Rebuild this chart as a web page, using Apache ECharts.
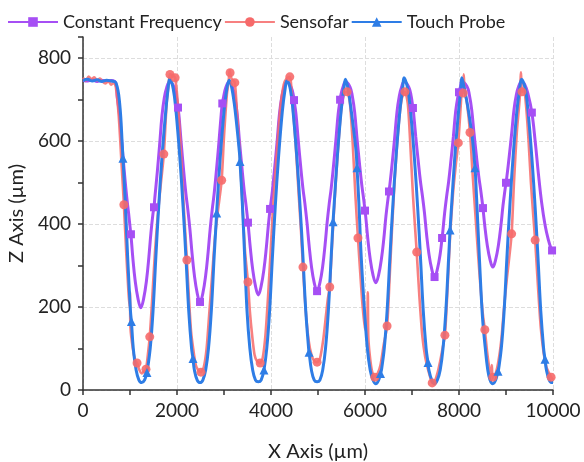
<!DOCTYPE html>
<html>
<head>
<meta charset="utf-8">
<script src="https://cdn.jsdelivr.net/npm/echarts@6/dist/echarts.min.js"></script>
<style>
  html, body { margin: 0; padding: 0; background: #ffffff; }
  #chart { width: 584px; height: 462px; }
</style>
</head>
<body>
<div id="chart"></div>
<script>
// Surface profile along X: three measurement methods, [x (µm), z (µm)]
const seriesNames = ['Constant Frequency', 'Sensofar', 'Touch Probe'];

const constantFrequency = [
  [0,746],[100,744],[200,747],[300,743],[400,746],[500,744],[600,745],[700,738],
  [730,704],[780,660],[830,590],[880,524],[930,465],[970,426],[1015,378],[1060,318],[1110,263],[1170,220],[1230,198],
  [1290,220],[1350,263],[1400,318],[1445,378],[1490,426],[1530,465],[1580,524],[1630,590],[1680,660],[1730,704],[1780,728],[1845,742],
  [1940,729],[1990,705],[2040,663],[2090,594],[2140,530],[2190,472],[2230,435],[2275,387],[2320,329],[2370,276],[2430,233],[2490,212],
  [2550,233],[2610,276],[2660,329],[2705,387],[2750,435],[2790,472],[2840,530],[2890,594],[2940,663],[2990,705],[3040,729],[3110,742],
  [3180,729],[3230,706],[3280,665],[3330,598],[3380,537],[3430,480],[3470,444],[3515,398],[3560,342],[3610,291],[3670,250],[3730,229],
  [3790,250],[3850,291],[3900,342],[3945,398],[3990,444],[4030,480],[4080,537],[4130,598],[4180,665],[4230,706],[4280,729],[4340,742],
  [4430,729],[4480,707],[4530,666],[4580,601],[4630,540],[4680,485],[4720,450],[4765,404],[4810,349],[4860,298],[4920,258],[4980,238],
  [5040,258],[5100,298],[5150,349],[5195,404],[5240,450],[5280,485],[5330,540],[5380,601],[5430,666],[5480,707],[5530,729],[5585,742],
  [5680,730],[5730,708],[5780,669],[5830,606],[5880,548],[5930,495],[5970,461],[6015,418],[6060,364],[6110,316],[6170,277],[6230,258],
  [6290,277],[6350,316],[6400,364],[6445,418],[6490,461],[6530,495],[6580,548],[6630,606],[6680,669],[6730,708],[6780,730],[6830,742],
  [6930,730],[6980,709],[7030,672],[7080,610],[7130,554],[7180,502],[7220,469],[7265,427],[7310,375],[7360,328],[7420,291],[7480,272],
  [7540,291],[7600,328],[7650,375],[7695,427],[7740,469],[7780,502],[7830,554],[7880,610],[7930,672],[7980,709],[8030,730],[8060,742],
  [8170,731],[8220,711],[8270,675],[8320,617],[8370,564],[8420,515],[8460,483],[8505,443],[8550,394],[8600,350],[8660,314],[8720,296],
  [8780,314],[8840,350],[8890,394],[8935,443],[8980,483],[9020,515],[9070,564],[9120,617],[9170,675],[9220,711],[9270,731],[9330,742],
  [9400,735],[9470,712],[9620,600],[9690,520],[9760,450],[9830,398],[9900,362],[9960,340],[10000,332]
];
const constantFrequencyMarks = [
  [1020,375],[1510,440],[2021,680],[2490,212],[2964,690],[3510,403],[3980,436],[4490,698],[4980,238],
  [5470,699],[6000,432],[6510,478],[7020,679],[7480,272],[7640,366],[8000,717],[8510,438],[9000,499],[9550,668],[9980,336]
];

const sensofar = [
  [0,752],[60,745],[120,755],[180,748],[240,753],[300,745],[360,750],[420,742],[480,738],[540,744],[600,735],[660,740],[700,728],
  [760,660],[820,545],[920,330],[960,250],[990,200],[1000,235],[1010,150],[1060,100],[1110,72],[1200,48],[1250,40],
  [1300,45],[1380,85],[1470,215],[1530,330],[1590,420],[1650,490],[1780,690],[1830,745],[1900,758],
  [2010,700],[2070,600],[2130,470],[2170,390],[2260,210],[2300,140],[2350,95],[2400,60],[2450,48],
  [2570,55],[2630,100],[2690,190],[2750,280],[2810,370],[2880,440],[3000,610],[3060,710],[3100,745],[3120,770],[3160,750],
  [3280,660],[3340,560],[3400,430],[3450,330],[3550,190],[3600,130],[3650,85],[3700,70],
  [3820,75],[3880,130],[3940,230],[4000,350],[4060,470],[4130,580],[4200,680],[4270,735],[4330,750],
  [4450,700],[4520,600],[4590,470],[4640,380],[4740,190],[4800,120],[4860,85],[4920,70],
  [5040,75],[5110,120],[5170,180],[5210,220],[5290,330],[5350,450],[5420,570],[5490,670],[5560,715],
  [5680,690],[5740,590],[5800,460],[5900,280],[5950,200],[6000,150],[6040,140],[6060,235],[6070,130],[6100,85],[6150,45],
  [6270,40],[6330,60],[6400,110],[6520,260],[6580,400],[6640,520],[6710,630],[6780,700],
  [6910,690],[6960,600],[7020,470],[7060,400],[7160,220],[7220,130],[7280,80],[7340,50],[7390,30],
  [7480,20],[7540,40],[7600,70],[7650,100],[7750,230],[7810,370],[7870,470],[7930,540],[8040,690],[8070,740],[8100,760],[8120,720],[8170,690],
  [8290,520],[8350,420],[8410,320],[8470,230],[8510,180],[8600,90],[8650,50],[8690,35],[8700,60],[8710,28],
  [8780,40],[8840,70],[8900,120],[8960,200],[9020,270],[9070,320],[9170,500],[9230,620],[9290,700],[9320,765],[9380,725],
  [9430,680],[9480,600],[9530,500],[9580,420],[9680,250],[9740,150],[9800,90],[9860,55],[9920,40],[10000,25]
];
const sensofarMarks = [
  [870,446],[1150,65],[1340,50],[1420,128],[1720,568],[1850,760],[1960,752],[2210,313],[2510,43],
  [2950,505],[3130,764],[3230,740],[3510,260],[3770,65],[4400,754],[4680,296],[4980,67],[5250,248],
  [5620,718],[5850,366],[6210,31],[6470,154],[6850,718],[7100,332],[7430,17],[7700,132],[7985,595],
  [8090,715],[8234,620],[8550,145],[8720,31],[9120,376],[9340,718],[9620,361],[9960,31]
];

const touchProbe = [
  [0,745],[100,748],[200,744],[300,747],[400,743],[500,746],[600,744],[700,740],
  [780,690],[840,580],[900,450],[950,320],[1010,190],[1070,100],[1130,48],[1190,24],[1250,18],
  [1310,24],[1370,48],[1430,100],[1490,190],[1550,320],[1610,440],[1680,560],[1760,670],[1810,725],[1845,750],
  [1920,725],[1980,670],[2060,560],[2130,440],[2190,320],[2250,190],[2310,100],[2370,48],[2430,24],[2490,18],
  [2550,24],[2610,48],[2670,100],[2730,190],[2790,320],[2850,440],[2920,560],[3000,670],[3060,725],[3110,746],
  [3170,725],[3240,670],[3330,570],[3390,450],[3440,320],[3490,190],[3550,100],[3610,48],[3670,24],[3730,20],
  [3790,24],[3850,48],[3910,100],[3970,190],[4030,320],[4090,440],[4160,560],[4240,670],[4300,725],[4340,745],
  [4410,725],[4470,670],[4550,560],[4620,440],[4680,320],[4740,190],[4800,100],[4860,48],[4920,24],[4980,20],
  [5040,24],[5100,48],[5160,100],[5220,190],[5280,320],[5340,440],[5410,560],[5490,670],[5550,725],[5585,748],
  [5640,725],[5710,670],[5810,575],[5870,450],[5920,320],[5990,190],[6050,100],[6110,48],[6170,24],[6230,15],
  [6290,24],[6350,48],[6410,100],[6470,190],[6530,320],[6590,440],[6660,560],[6740,670],[6800,725],[6830,752],
  [6910,725],[6970,670],[7050,560],[7120,440],[7180,320],[7240,190],[7300,100],[7360,48],[7420,24],[7480,15],
  [7540,24],[7600,48],[7660,100],[7720,190],[7780,320],[7840,440],[7910,560],[7990,670],[8040,725],[8060,752],
  [8110,728],[8190,680],[8290,600],[8350,520],[8400,400],[8450,280],[8500,175],[8560,100],[8610,50],[8660,24],[8720,15],
  [8780,24],[8840,48],[8900,100],[8960,190],[9020,320],[9080,440],[9150,560],[9230,670],[9290,725],[9330,748],
  [9410,725],[9470,670],[9550,560],[9620,440],[9680,320],[9740,190],[9800,100],[9860,48],[9920,24],[9980,18],[10000,18]
];
const touchProbeMarks = [
  [850,558],[1030,165],[1360,42],[2340,76],[2844,426],[3340,550],[3850,48],[4810,91],
  [5320,405],[5830,535],[6330,40],[7340,66],[7810,385],[8340,535],[8830,45],[9830,74]
];

const xTicks = { min: 0, max: 10000, step: 2000 };
const zTicks = { min: 0, max: 850, step: 200 };

const colors = ['#a64ff4', '#f66a6a', '#2e7de6'];
const symbols = ['rect', 'circle', 'triangle'];
const lines = [constantFrequency, sensofar, touchProbe];
const marks = [constantFrequencyMarks, sensofarMarks, touchProbeMarks];

// the line runs through its marker points as well
function throughMarks(line, pts) {
  return line.concat(pts).sort((a, b) => a[0] - b[0]);
}

const font = 'Lato, "Open Sans", sans-serif';

const lineSeries = seriesNames.map((name, i) => ({
  name: name,
  type: 'line',
  data: throughMarks(lines[i], marks[i]),
  symbol: symbols[i],
  symbolSize: 8,
  showSymbol: false,
  smooth: i === 1 ? 0.25 : 0.4,
  lineStyle: { color: colors[i], width: i === 1 ? 2.6 : 3, opacity: i === 1 ? 0.85 : 1 },
  itemStyle: { color: colors[i] },
  z: 2 + i,
  silent: true,
  animation: false
}));

const markSeries = seriesNames.map((name, i) => ({
  name: name,
  type: 'scatter',
  data: marks[i],
  symbol: symbols[i],
  symbolSize: i === 0 ? 8 : 9,
  itemStyle: { color: colors[i], opacity: i === 1 ? 0.9 : 1 },
  z: 5 + i,
  silent: true,
  animation: false
}));

const axisColor = '#333333';
const chart = echarts.init(document.getElementById('chart'), null, { renderer: 'canvas' });
chart.setOption({
  animation: false,
  backgroundColor: '#ffffff',
  legend: {
    data: seriesNames,
    left: 2,
    top: 8,
    itemWidth: 50,
    itemHeight: 12,
    itemGap: 2,
    textStyle: { fontFamily: font, fontSize: 18, color: '#222222' }
  },
  grid: { left: 83, right: 31, top: 37, bottom: 72, outerBoundsMode: 'none', containLabel: false },
  xAxis: {
    type: 'value',
    min: xTicks.min,
    max: xTicks.max,
    interval: xTicks.step,
    name: 'X Axis (µm)',
    nameLocation: 'middle',
    nameGap: 52,
    nameTextStyle: { fontFamily: font, fontSize: 20, color: '#222222' },
    axisLine: { show: true, onZero: false, lineStyle: { color: axisColor, width: 1.5 } },
    axisTick: { show: true, length: 5, lineStyle: { color: axisColor, width: 1.5 } },
    minorTick: { show: true, splitNumber: 2, length: 5, lineStyle: { color: axisColor, width: 1.5 } },
    axisLabel: { fontFamily: font, fontSize: 19, color: '#222222', margin: 11, formatter: v => String(v) },
    splitLine: { show: true, lineStyle: { color: '#dddddd', type: 'dashed', width: 1 } }
  },
  yAxis: {
    type: 'value',
    min: zTicks.min,
    max: zTicks.max,
    interval: zTicks.step,
    name: 'Z Axis (µm)',
    nameLocation: 'middle',
    nameGap: 50,
    nameTextStyle: { fontFamily: font, fontSize: 20, color: '#222222' },
    axisLine: { show: true, onZero: false, lineStyle: { color: axisColor, width: 1.5 } },
    axisTick: { show: true, length: 5, lineStyle: { color: axisColor, width: 1.5 } },
    minorTick: { show: true, splitNumber: 2, length: 5, lineStyle: { color: axisColor, width: 1.5 } },
    axisLabel: {
      fontFamily: font, fontSize: 19, color: '#222222', margin: 12,
      showMaxLabel: false,
      formatter: v => (v % zTicks.step === 0 ? String(v) : '')
    },
    splitLine: { show: true, showMaxLine: false, lineStyle: { color: '#dddddd', type: 'dashed', width: 1 } }
  },
  series: lineSeries.concat(markSeries)
});
</script>
</body>
</html>
